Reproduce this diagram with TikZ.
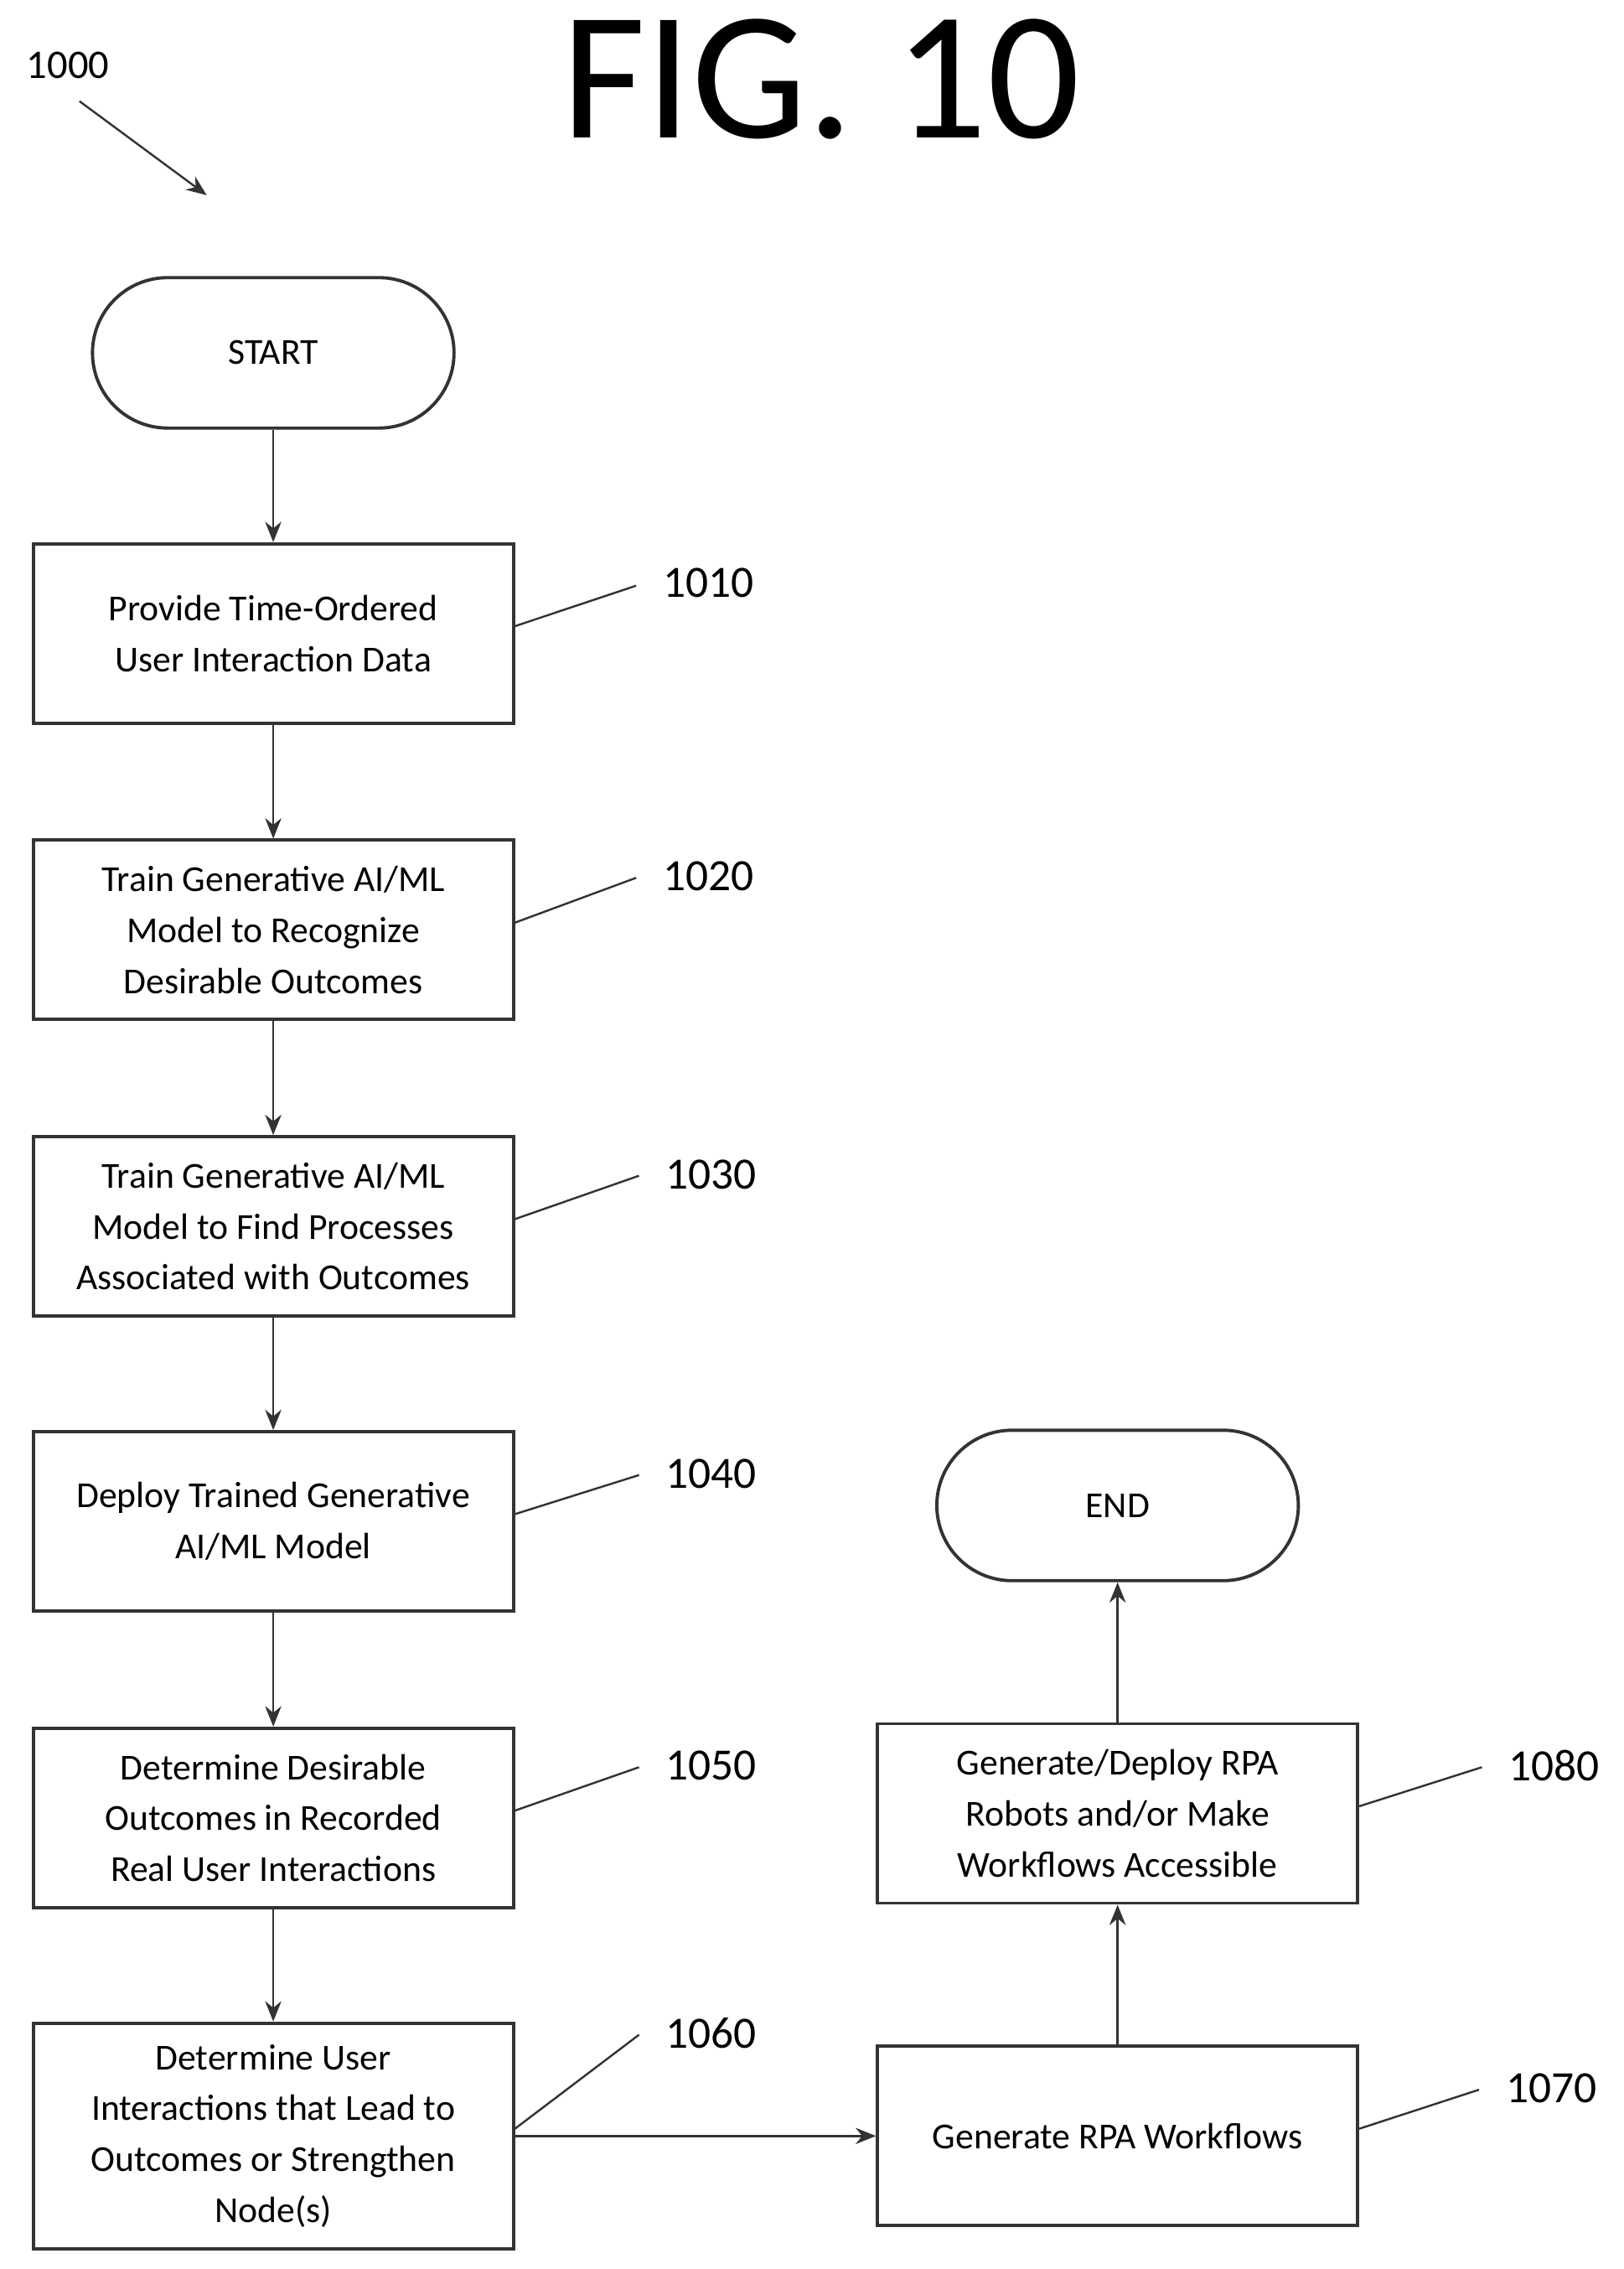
\documentclass[tikz,border=0pt]{standalone}
\usepackage{fontspec}
\setmainfont{Carlito}
\usetikzlibrary{arrows.meta}
\begin{document}
\begin{tikzpicture}[x=0.025cm,y=-0.025cm,
 box/.style={draw=black!80,line width=1.6pt,minimum width=8.3cm,minimum height=3.1cm,align=center,font=\fontsize{18}{25}\selectfont,inner sep=2pt},
 term/.style={draw=black!80,line width=1.6pt,rounded corners=1.3cm,minimum width=6.25cm,minimum height=2.6cm,font=\fontsize{18}{25}\selectfont},
 lab/.style={font=\fontsize{22}{26}\selectfont},
 arr/.style={-{Stealth[length=10pt,width=8pt]},line width=1pt,black!80},
 lead/.style={line width=1pt,black!80}]
\useasboundingbox (0,0) rectangle (1123,1569);
\node[font=\fontsize{90}{90}\selectfont] (fig) at (568,55) {FIG. 10};
\node[lab,font=\fontsize{20}{24}\selectfont] (n1000) at (47,45) {1000};
\coordinate (a0) at (55,70); \coordinate (a1) at (143,135);
\draw[arr] (a0) -- (a1);
\node[term] (start) at (189,244) {START};
\node[box] (b1010) at (189,438) {Provide Time-Ordered\\User Interaction Data};
\node[box] (b1020) at (189,643) {Train Generative AI/ML\\Model to Recognize\\Desirable Outcomes};
\node[box] (b1030) at (189,848) {Train Generative AI/ML\\Model to Find Processes\\Associated with Outcomes};
\node[box] (b1040) at (189,1052) {Deploy Trained Generative\\AI/ML Model};
\node[box] (b1050) at (189,1257) {Determine Desirable\\Outcomes in Recorded\\Real User Interactions};
\node[box,minimum height=3.9cm] (b1060) at (189,1477) {Determine User\\Interactions that Lead to\\Outcomes or Strengthen\\Node(s)};
\node[box] (b1070) at (773,1477) {Generate RPA Workflows};
\node[box] (b1080) at (773,1254) {Generate/Deploy RPA\\Robots and/or Make\\Workflows Accessible};
\node[term] (end) at (773,1041) {END};
\draw[arr] (start) -- (b1010);
\draw[arr] (b1010) -- (b1020);
\draw[arr] (b1020) -- (b1030);
\draw[arr] (b1030) -- (b1040);
\draw[arr] (b1040) -- (b1050);
\draw[arr] (b1050) -- (b1060);
\draw[arr] (b1060) -- (b1070);
\draw[arr] (b1070) -- (b1080);
\draw[arr] (b1080) -- (end);
\foreach \n/\x/\y/\lx/\ly in {1010/490/403/440/405, 1020/490/606/440/607, 1030/492/812/442/813, 1040/492/1019/442/1020, 1050/492/1221/442/1222, 1060/492/1406/442/1407, 1080/1075/1221/1025/1222, 1070/1073/1444/1023/1445}{
 \node[lab] (l\n) at (\x,\y) {\n};
 \coordinate (c\n) at (\lx,\ly);
 \draw[lead] (b\n.east) ++(0,-5) -- (c\n);
}
\end{tikzpicture}
\end{document}
